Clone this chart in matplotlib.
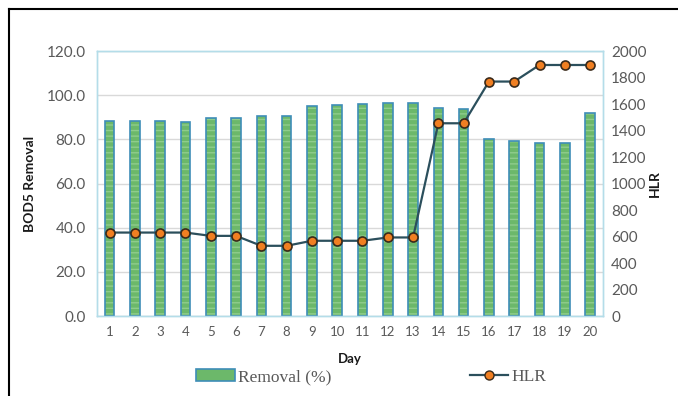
import matplotlib
matplotlib.use("Agg")
import matplotlib.pyplot as plt
from matplotlib.lines import Line2D
from matplotlib.patches import Patch

days = list(range(1, 21))
removal = [88.5, 88.4, 88.4, 88.0, 89.8, 89.6, 90.7, 90.7, 95.1, 95.8,
           96.0, 96.4, 96.4, 94.4, 93.8, 80.2, 79.4, 78.2, 78.2, 91.8]
hlr = [630, 630, 630, 630, 605, 605, 530, 530, 568, 568,
       568, 593, 593, 1455, 1455, 1770, 1770, 1895, 1895, 1895]
left_ticks = [0, 20, 40, 60, 80, 100, 120]
right_ticks = [0, 200, 400, 600, 800, 1000, 1200, 1400, 1600, 1800, 2000]

plt.rcParams['font.family'] = ['Lato', 'DejaVu Sans']
plt.rcParams['hatch.linewidth'] = 1.0

fig = plt.figure(figsize=(6.78, 3.96), dpi=100)
ax = fig.add_axes([0.143, 0.202, 0.746, 0.669])
ax2 = ax.twinx()

gray = '#595959'
bar_green = '#6CB86A'
bar_edge = '#3E8DB8'

ax.bar(days, removal, width=0.38, color=bar_green, edgecolor='#8FCC8C',
       hatch='---', linewidth=0, zorder=2)
ax.bar(days, removal, width=0.38, facecolor='none', edgecolor=bar_edge,
       linewidth=1.2, zorder=3)

ax2.plot(days, hlr, color='#2B4F5C', linewidth=1.6, marker='o', markersize=6.5,
         markerfacecolor='#F07F22', markeredgecolor='#3A2A1A', markeredgewidth=1.2,
         zorder=4)

ax.set_xlim(0.5, 20.5)
ax.set_ylim(0, 120)
ax2.set_ylim(0, 2000)
ax.set_yticks(left_ticks)
ax.set_yticklabels([f"{v:.1f}" for v in left_ticks])
ax2.set_yticks(right_ticks)
ax.set_xticks(days)
ax.set_xticklabels([str(d) for d in days])

ax.yaxis.grid(True, color='#D9D9D9', linewidth=1.0, zorder=0)
ax.set_axisbelow(True)

for a in (ax, ax2):
    for s in a.spines.values():
        s.set_color('#B4DDE9')
        s.set_linewidth(1.0)
    a.tick_params(length=0, colors=gray)

ax.tick_params(axis='y', labelsize=11, pad=8)
ax.tick_params(axis='x', labelsize=9.5, pad=7)
ax2.tick_params(axis='y', labelsize=11, pad=6)

ax.set_ylabel('BOD5 Removal', fontsize=10, fontweight='bold', color='#1A1A1A', labelpad=8)
ax2.set_ylabel('HLR', fontsize=10, fontweight='bold', color='#1A1A1A', labelpad=2)
ax.set_xlabel('Day', fontsize=9.5, fontweight='bold', color='#1A1A1A', labelpad=11)

handles = [Patch(facecolor=bar_green, edgecolor=bar_edge, linewidth=1.2),
           Line2D([0], [0], color='#2B4F5C', linewidth=1.6, marker='o', markersize=6.5,
                  markerfacecolor='#F07F22', markeredgecolor='#3A2A1A')]
leg = fig.legend(handles, ['Removal (%)', 'HLR'], loc='center', bbox_to_anchor=(0.548, 0.048),
                 ncol=2, frameon=False, columnspacing=8, handlelength=2.2, handletextpad=0.2,
                 prop={'family': 'Liberation Serif', 'size': 12.5})
for t in leg.get_texts():
    t.set_color(gray)

fig.add_artist(Line2D([0.013, 0.013], [0.0, 0.978], color='black', linewidth=1.5,
                      transform=fig.transFigure))
fig.add_artist(Line2D([0.013, 1.0], [0.978, 0.978], color='black', linewidth=1.5,
                      transform=fig.transFigure))

fig.savefig('out.png', dpi=100)
